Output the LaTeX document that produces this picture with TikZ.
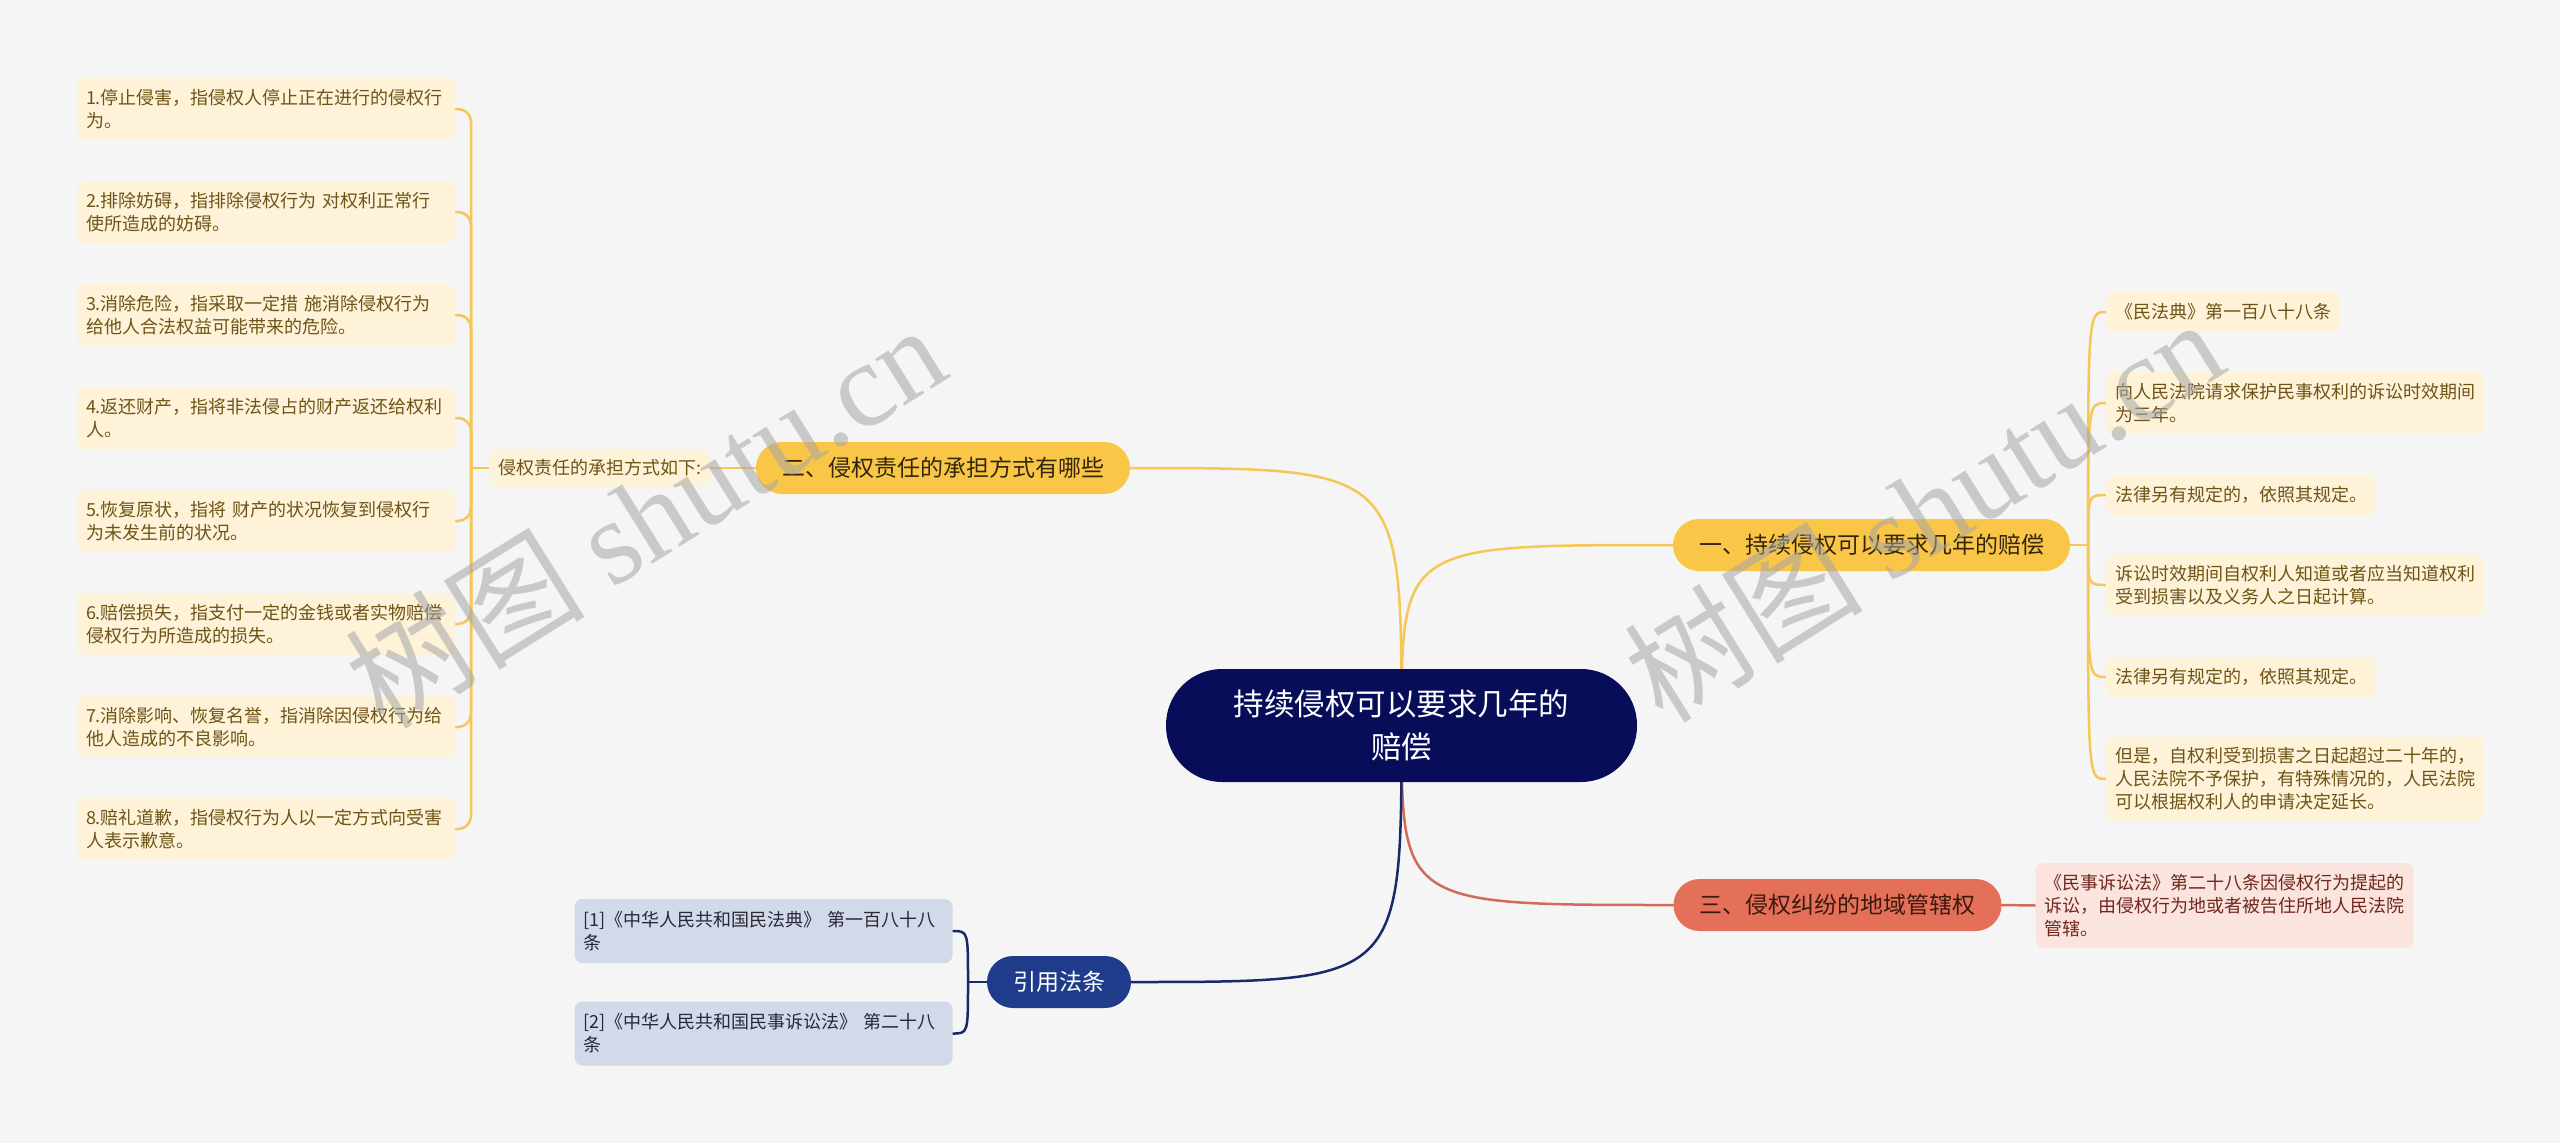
\documentclass[tikz,border=0pt]{standalone}
\usepackage{fontspec}
\setmainfont{Noto Sans CJK SC}
\newfontfamily\wmlat{Liberation Serif}
\pgfdeclarelayer{bg}
\pgfsetlayers{bg,main}
\definecolor{bgc}{RGB}{245,245,245}
\definecolor{cnav}{RGB}{8,13,90}
\definecolor{yb}{RGB}{250,198,72}
\definecolor{ybt}{RGB}{51,38,10}
\definecolor{ylc}{RGB}{246,198,86}
\definecolor{lf}{RGB}{254,243,217}
\definecolor{lt}{RGB}{110,84,22}
\definecolor{rb}{RGB}{228,112,90}
\definecolor{rbt}{RGB}{60,25,15}
\definecolor{rlc}{RGB}{208,108,88}
\definecolor{rlf}{RGB}{251,228,222}
\definecolor{rlt}{RGB}{110,40,28}
\definecolor{nb}{RGB}{30,60,138}
\definecolor{nlc}{RGB}{25,42,105}
\definecolor{blf}{RGB}{210,217,232}
\definecolor{blt}{RGB}{40,40,55}
\definecolor{wmc}{RGB}{165,165,165}
\tikzset{
  centerbox/.style={fill=cnav, text=white, rounded corners=56pt, minimum width=471pt,
    minimum height=113pt, align=center, inner sep=0pt, font=\fontsize{30.5}{43}\selectfont},
  brbox/.style={rounded corners=26pt, minimum height=52pt, inner xsep=26pt, inner ysep=0pt,
    font=\fontsize{23}{28}\selectfont},
  leafbox/.style={rounded corners=8pt, inner xsep=9pt, inner ysep=0pt,
    font=\fontsize{18}{23}\selectfont},
  leafy/.style={leafbox, fill=lf, text=lt},
  leafr/.style={leafbox, fill=rlf, text=rlt},
  leafb/.style={leafbox, fill=blf, text=blt},
  multi/.style={text width=360pt, align=left},
  conn/.style={line width=2.5pt, line cap=round},
  wmark/.style={text=wmc, text opacity=0.55, rotate=32, inner sep=0pt},
}
\begin{document}
\begin{tikzpicture}[x=1pt,y=-1pt]
\begin{pgfonlayer}{bg}
\fill[bgc] (0,0) rectangle (2560,1143);
\end{pgfonlayer}
\useasboundingbox (0,0) rectangle (2560,1143);

% central topic
\node[centerbox] (c) at (1401.5,725.5) {持续侵权可以要求几年的\\赔偿};

% main branches
\node[brbox, fill=yb, text=ybt] (b1) at (1871.5,545) {一、持续侵权可以要求几年的赔偿};
\node[brbox, fill=yb, text=ybt] (b2) at (943,468) {二、侵权责任的承担方式有哪些};
\node[brbox, fill=rb, text=rbt] (b3) at (1837.5,905) {三、侵权纠纷的地域管辖权};
\node[brbox, fill=nb, text=white] (b4) at (1059,982) {引用法条};

% right leaves of branch 1
\node[leafy, anchor=west, minimum height=40pt] (r1) at (2106,312) {《民法典》第一百八十八条};
\node[leafy, multi, anchor=west, minimum height=62pt] (r2) at (2106,403) {向人民法院请求保护民事权利的诉讼时效期间\\为三年。};
\node[leafy, anchor=west, minimum height=40pt] (r3) at (2106,495) {法律另有规定的，依照其规定。};
\node[leafy, multi, anchor=west, minimum height=62pt] (r4) at (2106,585) {诉讼时效期间自权利人知道或者应当知道权利\\受到损害以及义务人之日起计算。};
\node[leafy, anchor=west, minimum height=40pt] (r5) at (2106,677) {法律另有规定的，依照其规定。};
\node[leafy, multi, anchor=west, minimum height=85pt] (r6) at (2106,779) {但是，自权利受到损害之日起超过二十年的，\\人民法院不予保护，有特殊情况的，人民法院\\可以根据权利人的申请决定延长。};

% branch 2 sub node and leaves
\node[leafy, minimum height=37pt] (s2) at (599.5,468) {侵权责任的承担方式如下:};
\node[leafy, multi, minimum height=62pt] (l1) at (266,109) {1.停止侵害，指侵权人停止正在进行的侵权行\\为。};
\node[leafy, multi, minimum height=62pt] (l2) at (266,212) {2.排除妨碍，指排除侵权行为 对权利正常行\\使所造成的妨碍。};
\node[leafy, multi, minimum height=62pt] (l3) at (266,315) {3.消除危险，指采取一定措 施消除侵权行为\\给他人合法权益可能带来的危险。};
\node[leafy, multi, minimum height=62pt] (l4) at (266,418) {4.返还财产，指将非法侵占的财产返还给权利\\人。};
\node[leafy, multi, minimum height=62pt] (l5) at (266,521) {5.恢复原状，指将 财产的状况恢复到侵权行\\为未发生前的状况。};
\node[leafy, multi, minimum height=62pt] (l6) at (266,624) {6.赔偿损失，指支付一定的金钱或者实物赔偿\\侵权行为所造成的损失。};
\node[leafy, multi, minimum height=62pt] (l7) at (266,727) {7.消除影响、恢复名誉，指消除因侵权行为给\\他人造成的不良影响。};
\node[leafy, multi, minimum height=62pt] (l8) at (266,829) {8.赔礼道歉，指侵权行为人以一定方式向受害\\人表示歉意。};

% branch 3 leaf
\node[leafr, multi, minimum height=85pt] (t1) at (2224.5,905.5) {《民事诉讼法》第二十八条因侵权行为提起的\\诉讼，由侵权行为地或者被告住所地人民法院\\管辖。};

% references
\node[leafb, multi, minimum height=64pt] (f1) at (763.5,931) {[1]《中华人民共和国民法典》 第一百八十八\\条};
\node[leafb, multi, minimum height=64pt] (f2) at (763.5,1033.5) {[2]《中华人民共和国民事诉讼法》 第二十八\\条};

% junction points
\coordinate (spR) at (2088,545);
\coordinate (spL) at (471,468);
\coordinate (spB) at (968,982);

\begin{pgfonlayer}{bg}
% main curves
\draw[conn, ylc] (c.center) .. controls (c.center |- b1.west) .. (b1.west);
\draw[conn, ylc] (c.center) .. controls (c.center |- b2.east) .. (b2.east);
\draw[conn, rlc] (c.center) .. controls (c.center |- b3.west) .. (b3.west);
\draw[conn, nlc] (c.center) .. controls (c.center |- b4.east) .. (b4.east);
% branch 1 bracket
\draw[conn, ylc] (b1.east) -- (spR);
\foreach \n in {r1,r2,r3,r4,r5,r6}{
  \draw[conn, ylc] (spR) .. controls (spR |- \n.west) .. (\n.west);
}
% branch 2
\draw[conn, ylc] (b2.west) -- (s2.east);
\draw[conn, ylc] (s2.west) -- (spL);
\foreach \n in {l1,l2,l3,l4,l5,l6,l7,l8}{
  \draw[conn, ylc, rounded corners=13pt] (spL) |- (\n.east);
}
% branch 3
\draw[conn, rlc] (b3.east) -- (t1.west);
% references
\draw[conn, nlc] (b4.west) -- (spB);
\foreach \n in {f1,f2}{
  \draw[conn, nlc] (spB) .. controls (spB |- \n.east) .. (\n.east);
}
\end{pgfonlayer}

% watermarks
\node[wmark] (w1) at (645,515) {\fontsize{120}{120}\selectfont 树图 {\wmlat shutu.cn}};
\node[wmark] (w2) at (1923,509) {\fontsize{120}{120}\selectfont 树图 {\wmlat shutu.cn}};
\end{tikzpicture}
\end{document}
